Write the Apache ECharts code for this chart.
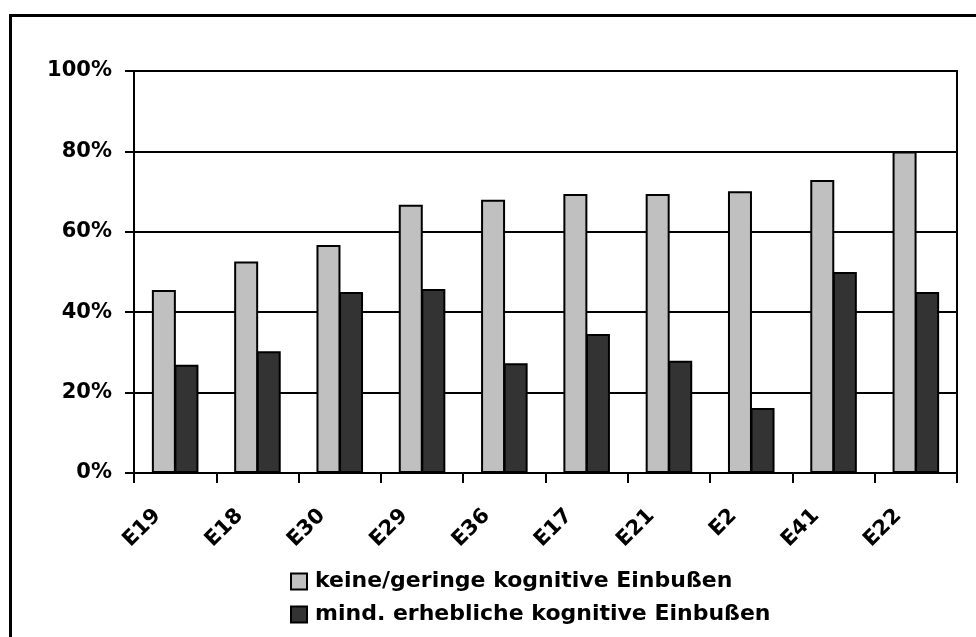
<!DOCTYPE html>
<html>
<head>
<meta charset="utf-8">
<script src="https://cdn.jsdelivr.net/npm/echarts@6/dist/echarts.min.js"></script>
<style>
html,body{margin:0;padding:0;background:#fff;}
#chart{width:976px;height:637px;}
</style>
</head>
<body>
<div id="chart"></div>
<script>
const categories = ['E19','E18','E30','E29','E36','E17','E21','E2','E41','E22'];
const seriesNames = ['keine/geringe kognitive Einbußen','mind. erhebliche kognitive Einbußen'];
const valuesLow = [45.5, 52.6, 56.7, 66.7, 68.0, 69.4, 69.4, 70.1, 72.9, 80.0];
const valuesHigh = [26.9, 30.3, 45.0, 45.8, 27.3, 34.6, 27.9, 16.2, 50.0, 45.0];
const yTicks = [0, 20, 40, 60, 80, 100];

const FONT = 'DejaVu Sans';
const chart = echarts.init(document.getElementById('chart'), null, {renderer:'canvas'});
chart.setOption({
  animation: false,
  backgroundColor: '#ffffff',
  graphic: [{
    type: 'rect', z: -10, silent: true,
    shape: {x: 10.5, y: 15.5, width: 1000, height: 700},
    style: {fill: 'none', stroke: '#000', lineWidth: 3}
  }],
  grid: {
    left: 134, right: 19, top: 71, bottom: 164,
    show: true, borderColor: '#000', borderWidth: 2, backgroundColor: 'transparent'
  },
  legend: {
    orient: 'vertical', left: 285, top: 564,
    itemWidth: 16, itemHeight: 16, itemGap: 8,
    icon: 'rect',
    data: seriesNames,
    textStyle: {fontFamily: FONT, fontWeight: 'bold', fontSize: 22, color: '#000', lineHeight: 25, padding: [0,0,0,3]}
  },
  xAxis: {
    type: 'category', data: categories,
    axisLine: {lineStyle: {color: '#000', width: 2}},
    axisTick: {show: true, length: 10, lineStyle: {color: '#000', width: 2}},
    axisLabel: {
      rotate: 45, margin: 22, padding: [0, 25, 0, 0],
      fontFamily: FONT, fontWeight: 'bold', fontSize: 21, color: '#000'
    },
    splitLine: {show: false}
  },
  yAxis: {
    type: 'value', min: yTicks[0], max: yTicks[yTicks.length-1], interval: 20,
    axisLine: {show: true, lineStyle: {color: '#000', width: 2}},
    axisTick: {show: true, length: 9, lineStyle: {color: '#000', width: 2}},
    axisLabel: {
      margin: 22, formatter: '{value}%',
      fontFamily: FONT, fontWeight: 'bold', fontSize: 21, color: '#000'
    },
    splitLine: {show: true, lineStyle: {color: '#000', width: 2}}
  },
  series: [
    {
      name: seriesNames[0], type: 'bar', data: valuesLow,
      barWidth: 24, barGap: '-6%',
      itemStyle: {color: '#C0C0C0', borderColor: '#000', borderWidth: 2}
    },
    {
      name: seriesNames[1], type: 'bar', data: valuesHigh,
      barWidth: 24, barGap: '-6%',
      itemStyle: {color: '#333333', borderColor: '#000', borderWidth: 2}
    }
  ]
});
</script>
</body>
</html>
